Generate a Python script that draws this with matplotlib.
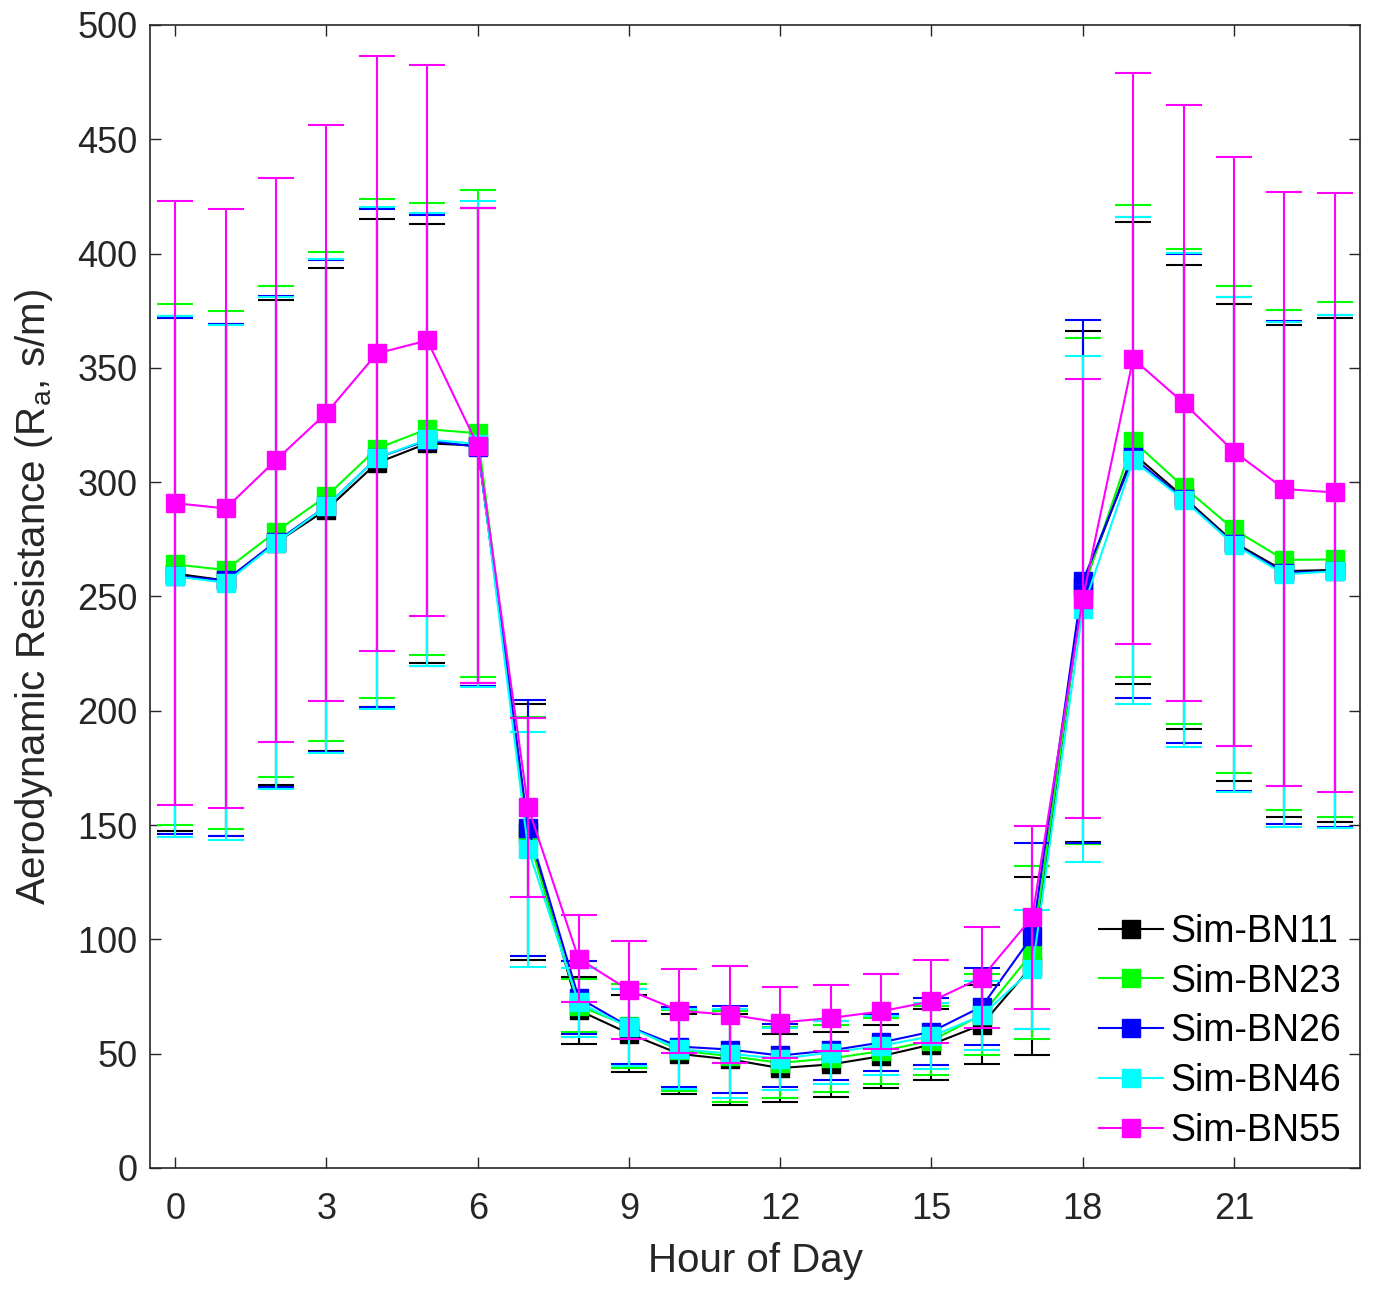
import numpy as np
import matplotlib.pyplot as plt
from matplotlib.lines import Line2D

plt.rcParams['font.family'] = ['Liberation Sans', 'DejaVu Sans']
plt.rcParams['mathtext.fontset'] = 'custom'
plt.rcParams['mathtext.rm'] = 'Liberation Sans'
plt.rcParams['mathtext.it'] = 'Liberation Sans'

hours = np.arange(24)

# mean aerodynamic resistance (s/m) per simulation
bn11 = [260, 257, 273.6, 288, 308.4, 317, 316, 147, 69, 58.8, 49.9, 47.5,
        43.7, 45.3, 48.9, 54, 62.7, 88.5, 254.3, 312.6, 293.5, 273.7, 261.1, 261.6]
bn23 = [264, 261.6, 278.4, 293.9, 314.7, 323.2, 321.4, 145, 71, 62, 51.4, 48.9,
        46, 47.9, 51.1, 55.7, 67, 94.2, 252.2, 318, 298, 279.3, 266, 266.2]
bn26 = [259, 257, 274, 289.5, 310.6, 318.3, 315.4, 148.7, 74.5, 61.8, 53.1, 51.8,
        49.2, 51.4, 54.9, 59.6, 70.6, 101.5, 256.6, 310.8, 292.7, 273, 260.4, 261]
bn46 = [258.8, 256, 273.4, 289.5, 310.6, 318.7, 316.7, 139.4, 72.4, 61.5, 52, 50,
        47.7, 50.5, 53.5, 57.6, 66.7, 87, 244.5, 309.5, 292.3, 272.7, 259.7, 261]
bn55 = [290.8, 288.5, 309.7, 330.3, 356.3, 362, 316, 157.7, 91.6, 77.8, 68.7, 67.1,
        63.6, 65.6, 68.5, 72.9, 83.3, 109.7, 249, 354, 334.7, 313.4, 297, 295.5]

# standard deviations (error bar half-lengths)
bn11_sd = [112.5, 112, 106, 105.5, 106.7, 96, 104, 56, 14.6, 16.9, 17.5, 19.9,
           15, 14.1, 13.8, 15.5, 17.3, 39, 111.7, 101, 101.5, 104.4, 107.7, 110.2]
bn23_sd = [114, 113.3, 107.4, 107, 109, 98.8, 106.6, 52.4, 11.5, 18.3, 17.6, 19.9,
           15.5, 14.8, 14.4, 15, 17.7, 37.8, 110.7, 103.3, 104, 106.5, 109.4, 112.6]
bn26_sd = [113, 112, 107.4, 107.5, 109, 98.7, 104.6, 56, 15.9, 16.4, 17.5, 19.2,
           13.6, 12.9, 12.5, 14.6, 16.9, 40.5, 114.4, 105, 107, 108, 109.9, 112]
bn46_sd = [114, 112.6, 107.6, 108, 109.8, 99.1, 106.3, 51.4, 15.2, 17, 17.5, 19.5,
           13.5, 13.7, 13, 14.4, 15, 26, 110.5, 106.5, 108, 108.4, 110.5, 112.2]
bn55_sd = [132, 131, 123.3, 126, 130, 120.5, 104, 39.2, 19, 21.4, 18.4, 21.2,
           15.5, 14.4, 16.4, 18.2, 22.1, 40, 96, 125, 130.4, 128.8, 130, 131]

labels = ['Sim-BN11', 'Sim-BN23', 'Sim-BN26', 'Sim-BN46', 'Sim-BN55']
colors = ['#000000', '#00ff00', '#0000ff', '#00ffff', '#ff00ff']
means = [bn11, bn23, bn26, bn46, bn55]
sds = [bn11_sd, bn23_sd, bn26_sd, bn46_sd, bn55_sd]

fig = plt.figure(figsize=(13.74, 12.94), dpi=100)
ax = fig.add_axes([0.1092, 0.0974, 0.8806, 0.8833])

handles = []
for i in range(len(labels)):
    ax.errorbar(hours, means[i], yerr=sds[i], color=colors[i], lw=1.5,
                elinewidth=1.5, capsize=13.3, capthick=1.5,
                marker='s', ms=13, mfc=colors[i], mec=colors[i], zorder=2 + i)
    handles.append(Line2D([], [], color=colors[i], lw=1.5, marker='s', ms=13,
                          mfc=colors[i], mec=colors[i]))

ax.set_xlim(-0.5, 23.5)
ax.set_ylim(0, 500)
ax.set_xticks(np.arange(0, 22, 3))
ax.set_yticks(np.arange(0, 501, 50))

ax.tick_params(direction='in', length=8, width=1, top=True, right=True,
               labelsize=26, labelcolor='#262626', color='#262626')
ax.tick_params(axis='y', pad=9)
ax.tick_params(axis='x', pad=17)
for s in ax.spines.values():
    s.set_color('#262626')
    s.set_linewidth(1.2)

ax.set_xlabel('Hour of Day', fontsize=29, color='#262626', labelpad=11)
ax.set_ylabel(r'Aerodynamic Resistance (R$_\mathrm{a}$, s/m)', fontsize=29,
              color='#262626', labelpad=16)

ax.legend(handles, labels, loc='lower right', bbox_to_anchor=(1.0, 0.0),
          frameon=False, fontsize=27, handlelength=1.7, handletextpad=0.2,
          labelspacing=0.37, borderaxespad=0.1)

plt.savefig('out.png', dpi=100)
